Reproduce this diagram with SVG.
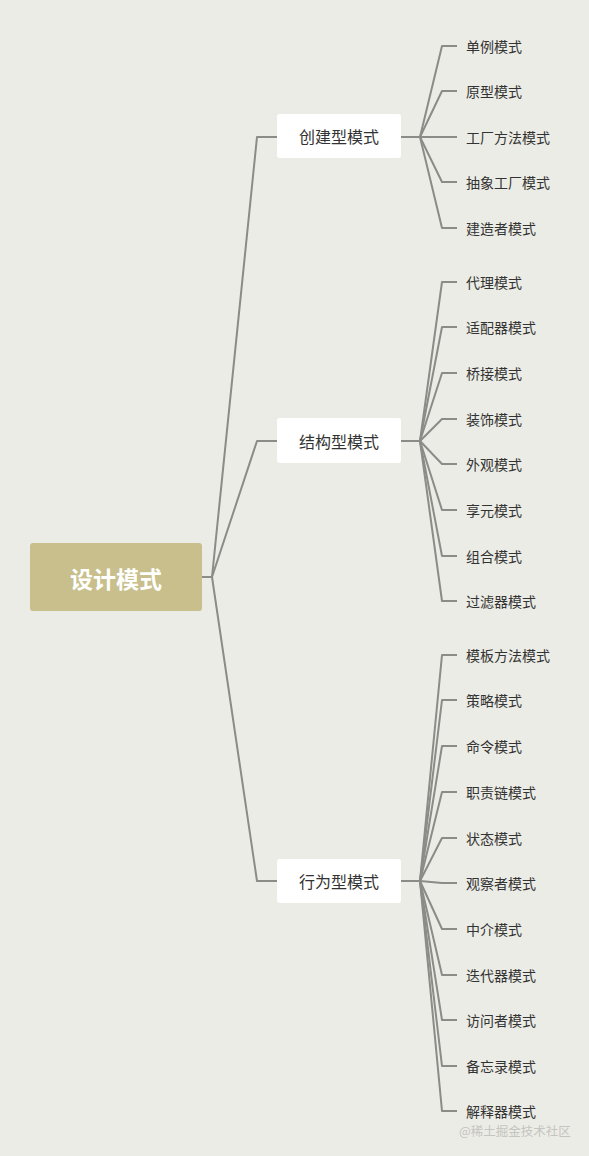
<svg xmlns="http://www.w3.org/2000/svg" width="589" height="1156" viewBox="0 0 589 1156">
<style>
.bg{fill:#ecece6}
.ln{fill:none;stroke:#8b8b87;stroke-width:2;stroke-linejoin:round;stroke-linecap:butt}
.root{fill:#c8bf8c}
.rt{font-family:"Noto Sans CJK SC","Noto Sans",sans-serif;font-size:23px;font-weight:bold;fill:#ffffff;text-anchor:middle;dominant-baseline:central}
.br{fill:#ffffff}
.bt{font-family:"Noto Sans CJK SC","Noto Sans",sans-serif;font-size:16px;fill:#333333;text-anchor:middle;dominant-baseline:central}
.lt{font-family:"Noto Sans CJK SC","Noto Sans",sans-serif;font-size:14px;fill:#333333;dominant-baseline:central}
.wm{font-family:"Noto Sans CJK SC","Noto Sans",sans-serif;font-size:12.5px;fill:#c4c4c0;dominant-baseline:central}
</style>
<rect class="bg" x="0" y="0" width="589" height="1156"/>
<g id="connectors">
<path class="ln" d="M202 577 H212 L257 137 H277"/>
<path class="ln" d="M212 577 L257 441 H277"/>
<path class="ln" d="M212 577 L257 881 H277"/>
<path class="ln" d="M401 137 H420 L442 46 H457"/>
<path class="ln" d="M420 137 L442 91 H457"/>
<path class="ln" d="M420 137 H457"/>
<path class="ln" d="M420 137 L442 182 H457"/>
<path class="ln" d="M420 137 L442 228 H457"/>
<path class="ln" d="M401 441 H420 L442 282 H457"/>
<path class="ln" d="M420 441 L442 327 H457"/>
<path class="ln" d="M420 441 L442 373 H457"/>
<path class="ln" d="M420 441 L442 419 H457"/>
<path class="ln" d="M420 441 L442 464 H457"/>
<path class="ln" d="M420 441 L442 510 H457"/>
<path class="ln" d="M420 441 L442 556 H457"/>
<path class="ln" d="M420 441 L442 601 H457"/>
<path class="ln" d="M401 881 H420 L442 655 H457"/>
<path class="ln" d="M420 881 L442 700 H457"/>
<path class="ln" d="M420 881 L442 746 H457"/>
<path class="ln" d="M420 881 L442 792 H457"/>
<path class="ln" d="M420 881 L442 838 H457"/>
<path class="ln" d="M420 881 L442 883 H457"/>
<path class="ln" d="M420 881 L442 929 H457"/>
<path class="ln" d="M420 881 L442 975 H457"/>
<path class="ln" d="M420 881 L442 1020 H457"/>
<path class="ln" d="M420 881 L442 1066 H457"/>
<path class="ln" d="M420 881 L442 1111 H457"/>
</g>
<g id="root">
<rect class="root" x="30" y="543" width="172" height="68" rx="3"/>
<text class="rt" x="116" y="578">设计模式</text>
</g>
<g id="b1">
<rect class="br" x="277" y="114" width="124" height="44" rx="3"/>
<text class="bt" x="339" y="136">创建型模式</text>
</g>
<g id="b2">
<rect class="br" x="277" y="418" width="124" height="45" rx="3"/>
<text class="bt" x="339" y="441">结构型模式</text>
</g>
<g id="b3">
<rect class="br" x="277" y="859" width="124" height="44" rx="3"/>
<text class="bt" x="339" y="881">行为型模式</text>
</g>
<g id="l1"><text class="lt" x="466" y="46">单例模式</text></g>
<g id="l2"><text class="lt" x="466" y="91">原型模式</text></g>
<g id="l3"><text class="lt" x="466" y="137">工厂方法模式</text></g>
<g id="l4"><text class="lt" x="466" y="182">抽象工厂模式</text></g>
<g id="l5"><text class="lt" x="466" y="228">建造者模式</text></g>
<g id="l6"><text class="lt" x="466" y="282">代理模式</text></g>
<g id="l7"><text class="lt" x="466" y="327">适配器模式</text></g>
<g id="l8"><text class="lt" x="466" y="373">桥接模式</text></g>
<g id="l9"><text class="lt" x="466" y="419">装饰模式</text></g>
<g id="l10"><text class="lt" x="466" y="464">外观模式</text></g>
<g id="l11"><text class="lt" x="466" y="510">享元模式</text></g>
<g id="l12"><text class="lt" x="466" y="556">组合模式</text></g>
<g id="l13"><text class="lt" x="466" y="601">过滤器模式</text></g>
<g id="l14"><text class="lt" x="466" y="655">模板方法模式</text></g>
<g id="l15"><text class="lt" x="466" y="700">策略模式</text></g>
<g id="l16"><text class="lt" x="466" y="746">命令模式</text></g>
<g id="l17"><text class="lt" x="466" y="792">职责链模式</text></g>
<g id="l18"><text class="lt" x="466" y="838">状态模式</text></g>
<g id="l19"><text class="lt" x="466" y="883">观察者模式</text></g>
<g id="l20"><text class="lt" x="466" y="929">中介模式</text></g>
<g id="l21"><text class="lt" x="466" y="975">迭代器模式</text></g>
<g id="l22"><text class="lt" x="466" y="1020">访问者模式</text></g>
<g id="l23"><text class="lt" x="466" y="1066">备忘录模式</text></g>
<g id="l24"><text class="lt" x="466" y="1111">解释器模式</text></g>
<text class="wm" x="459" y="1130">@稀土掘金技术社区</text>
</svg>
